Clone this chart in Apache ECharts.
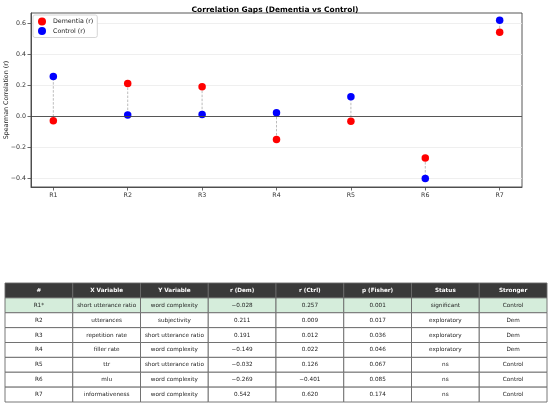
<!DOCTYPE html>
<html>
<head>
<meta charset="utf-8">
<script src="https://cdn.jsdelivr.net/npm/echarts@6/dist/echarts.min.js"></script>
<style>html,body{margin:0;padding:0;background:#fff}#c{width:550px;height:408px}</style>
</head>
<body>
<div id="c"></div>
<script>
const categories = ['R1', 'R2', 'R3', 'R4', 'R5', 'R6', 'R7'];
const demR = [-0.028, 0.211, 0.191, -0.149, -0.032, -0.269, 0.542];
const ctrlR = [0.257, 0.009, 0.012, 0.022, 0.126, -0.401, 0.620];
const yTicks = [-0.4, -0.2, 0.0, 0.2, 0.4, 0.6];

const tableHeaders = ['#', 'X Variable', 'Y Variable', 'r (Dem)', 'r (Ctrl)', 'p (Fisher)', 'Status', 'Stronger'];
const rowIds = ['R1*', 'R2', 'R3', 'R4', 'R5', 'R6', 'R7'];
const xVars = ['short utterance ratio', 'utterances', 'repetition rate', 'filler rate', 'ttr', 'mlu', 'informativeness'];
const yVars = ['word complexity', 'subjectivity', 'short utterance ratio', 'word complexity', 'short utterance ratio', 'word complexity', 'word complexity'];
const pFisher = [0.001, 0.017, 0.036, 0.046, 0.067, 0.085, 0.174];
const status = ['significant', 'exploratory', 'exploratory', 'exploratory', 'ns', 'ns', 'ns'];
const stronger = ['Control', 'Dem', 'Dem', 'Dem', 'Control', 'Control', 'Control'];

const FONT = 'DejaVu Sans';
const fmt = (v, d) => (v < 0 ? '\u2212' : '') + Math.abs(v).toFixed(d);

// table cells
const cells = [];
tableHeaders.forEach((h, c) => cells.push({ c: c, r: 0, text: h, header: true }));
rowIds.forEach((id, i) => {
  const vals = [id, xVars[i], yVars[i], fmt(demR[i], 3), fmt(ctrlR[i], 3), pFisher[i].toFixed(3), status[i], stronger[i]];
  vals.forEach((t, c) => cells.push({ c: c, r: i + 1, text: t, header: false, highlight: status[i] === 'significant' }));
});

const axisColor = '#444';
const chart = echarts.init(document.getElementById('c'), null, { renderer: 'canvas' });
chart.setOption({
  backgroundColor: '#fff',
  animation: false,
  textStyle: { fontFamily: FONT },
  title: {
    text: 'Correlation Gaps (Dementia vs Control)',
    left: 'center', top: 1,
    textStyle: { fontFamily: FONT, fontSize: 7.5, fontWeight: 'bold', color: '#000' }
  },
  graphic: [{
    type: 'text', x: 6, y: 100, rotation: Math.PI / 2,
    style: { text: 'Spearman Correlation (r)', align: 'center', verticalAlign: 'middle',
      fontFamily: FONT, fontSize: 6.3, fill: '#222' }
  }],
  legend: {
    orient: 'vertical', left: 33, top: 15,
    data: ['Dementia (r)', 'Control (r)'],
    icon: 'circle', itemWidth: 8, itemHeight: 8, itemGap: 1.5,
    padding: [2.5, 4, 2.5, 5],
    backgroundColor: '#fff', borderColor: '#ccc', borderWidth: 0.8, borderRadius: 2,
    textStyle: { fontFamily: FONT, fontSize: 6.3, color: '#222', padding: [0, 0, 0, 2] }
  },
  grid: [
    { left: 31, right: 28, top: 13, height: 174, show: true, borderColor: axisColor, borderWidth: 0.9,
      backgroundColor: 'transparent', containLabel: false, outerBoundsMode: 'none' },
    { left: 5, right: 3, top: 283, height: 119, containLabel: false, outerBoundsMode: 'none' }
  ],
  xAxis: [
    {
      type: 'value', gridIndex: 0, min: -0.3, max: 6.3, position: 'bottom',
      axisLine: { show: true, onZero: false, lineStyle: { color: axisColor, width: 0.9 } },
      axisTick: { show: true, inside: false, length: 3.5, customValues: [0, 1, 2, 3, 4, 5, 6], lineStyle: { color: axisColor, width: 0.8 } },
      axisLabel: { customValues: [0, 1, 2, 3, 4, 5, 6], formatter: v => categories[Math.round(v)], fontSize: 6.3, color: '#333', margin: 5, fontFamily: FONT },
      splitLine: { show: false }
    },
    { type: 'value', gridIndex: 1, min: 0, max: 8, show: false }
  ],
  yAxis: [
    {
      type: 'value', gridIndex: 0, min: -0.456, max: 0.666, position: 'left',
      axisLine: { show: true, onZero: false, lineStyle: { color: axisColor, width: 0.9 } },
      axisTick: { show: true, inside: false, length: 3.5, customValues: yTicks, lineStyle: { color: axisColor, width: 0.8 } },
      axisLabel: { customValues: yTicks, formatter: v => fmt(v, 1), fontSize: 6.3, color: '#333', margin: 5, fontFamily: FONT },
      splitLine: { show: true, lineStyle: { color: '#ebebeb', width: 0.8 } }
    },
    { type: 'value', gridIndex: 1, min: 0, max: 8, inverse: true, show: false }
  ],
  series: [
    {
      type: 'custom', name: 'gap', xAxisIndex: 0, yAxisIndex: 0, z: 1, silent: true,
      data: categories.map((c, i) => [i, demR[i], ctrlR[i]]),
      renderItem: (params, api) => {
        const a = api.coord([api.value(0), api.value(1)]);
        const b = api.coord([api.value(0), api.value(2)]);
        return { type: 'line', shape: { x1: a[0], y1: a[1], x2: b[0], y2: b[1] },
          style: { stroke: '#b4b4b4', lineWidth: 0.9, lineDash: [2.5, 1.5] } };
      },
      markLine: {
        silent: true, symbol: 'none', label: { show: false },
        lineStyle: { color: axisColor, width: 0.9, type: 'solid' },
        data: [{ yAxis: 0 }]
      }
    },
    {
      type: 'scatter', name: 'Dementia (r)', xAxisIndex: 0, yAxisIndex: 0, z: 3,
      symbolSize: 7.5, itemStyle: { color: '#ff0000', opacity: 1 },
      data: categories.map((c, i) => [i, demR[i]])
    },
    {
      type: 'scatter', name: 'Control (r)', xAxisIndex: 0, yAxisIndex: 0, z: 3,
      symbolSize: 7.5, itemStyle: { color: '#0000ff', opacity: 1 },
      data: categories.map((c, i) => [i, ctrlR[i]])
    },
    {
      type: 'custom', name: 'table', xAxisIndex: 1, yAxisIndex: 1, silent: true,
      data: cells.map(d => [d.c, d.r]),
      renderItem: (params, api) => {
        const d = cells[params.dataIndex];
        const p0 = api.coord([api.value(0), api.value(1)]);
        const p1 = api.coord([api.value(0) + 1, api.value(1) + 1]);
        const fill = d.header ? '#3a3a3a' : (d.highlight ? '#d5eddb' : '#ffffff');
        return {
          type: 'group',
          children: [
            { type: 'rect', shape: { x: p0[0], y: p0[1], width: p1[0] - p0[0], height: p1[1] - p0[1] },
              style: { fill: fill, stroke: '#6a6a6a', lineWidth: 0.9 } },
            { type: 'text', style: {
                text: d.text, x: (p0[0] + p1[0]) / 2, y: (p0[1] + p1[1]) / 2,
                align: 'center', verticalAlign: 'middle',
                fontFamily: FONT, fontSize: 5.7, fontWeight: d.header ? 'bold' : 'normal',
                fill: d.header ? '#ffffff' : '#222' } }
          ]
        };
      }
    }
  ]
});
</script>
</body>
</html>
